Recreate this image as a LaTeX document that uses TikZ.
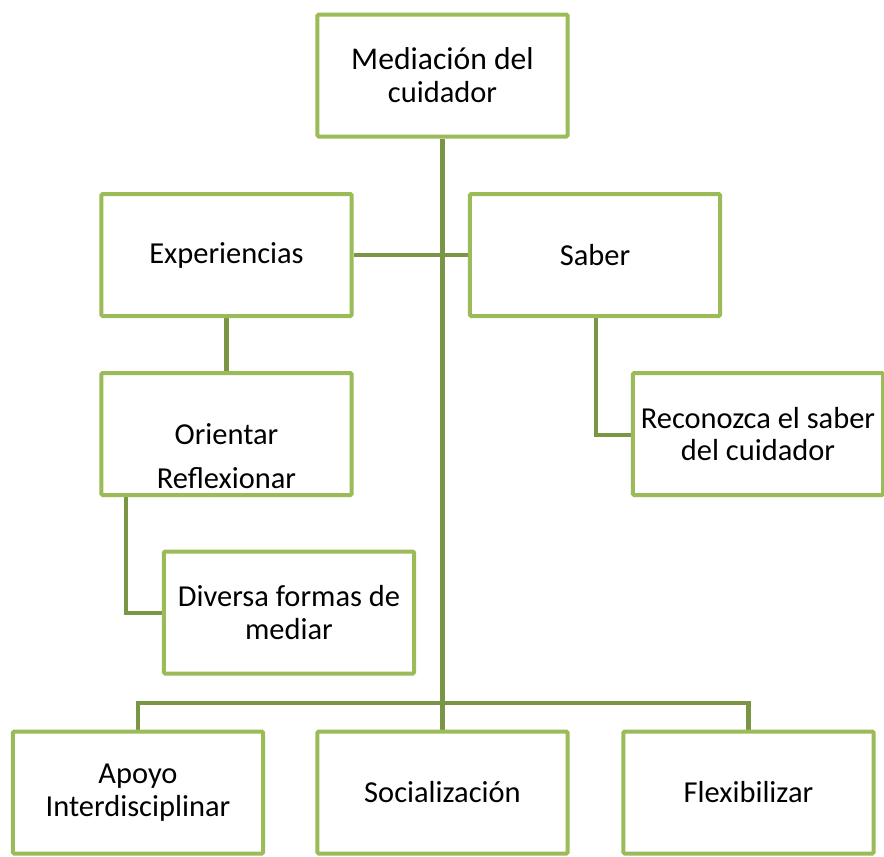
\documentclass[tikz,border=0pt]{standalone}
\usepackage{fontspec}
\setmainfont{Carlito}
\usetikzlibrary{positioning,backgrounds}
\definecolor{boxgreen}{HTML}{9BBB59}
\definecolor{linegreen}{HTML}{7A9645}

\begin{document}
\begin{tikzpicture}[x=0.03cm,y=-0.03cm]
	\tikzstyle{block} = [draw=boxgreen, line width=0.12cm, rounded corners=1pt, fill=white, rectangle, minimum width=7.5cm, minimum height=3.66cm, align=center, font=\fontsize{26}{28}\selectfont]
	\tikzstyle{link} = [draw=linegreen, line width=0.13cm]
	\useasboundingbox (0,0) rectangle (884,856);

	\coordinate (bus) at (442,703);
	\coordinate (orik) at (126,613);
	\coordinate (sabk) at (596,435);

	\node [block] (med) at (442.5,75.5) {\fontsize{27}{28}\selectfont Mediación del\\cuidador};
	\node [block] (exp) at (226.5,255) {Experiencias};
	\node [block] (sab) at (595,255) {Saber};
	\node [block, label={[yshift=-0.66cm, align=center, font=\fontsize{26}{37}\selectfont]center:Orientar\\Reflexionar}] (ori) at (226.5,434) {};
	\node [block] (rec) at (758,434) {Reconozca el saber\\del cuidador};
	\node [block] (div) at (289,612.5) {Diversa formas de\\mediar};
	\node [block] (apo) at (138,792.5) {Apoyo\\Interdisciplinar};
	\node [block] (soc) at (442.5,792.5) {Socialización};
	\node [block] (fle) at (748.5,792.5) {Flexibilizar};

	% connectors behind the boxes
	\begin{scope}[on background layer]
	\draw [link] (exp.east) -- (sab.west);
	\draw [link] (med.south) -- (soc.north);
	\draw [link] (exp.south) -- (ori.north);
	\draw [link] (ori.south -| orik) -- (orik) -- (div.west |- orik);
	\draw [link] (sab.south -| sabk) -- (sabk) -- (rec.west |- sabk);
	\draw [link] (apo.north) |- (bus) -| (fle.north);
	\end{scope}
\end{tikzpicture}
\end{document}
